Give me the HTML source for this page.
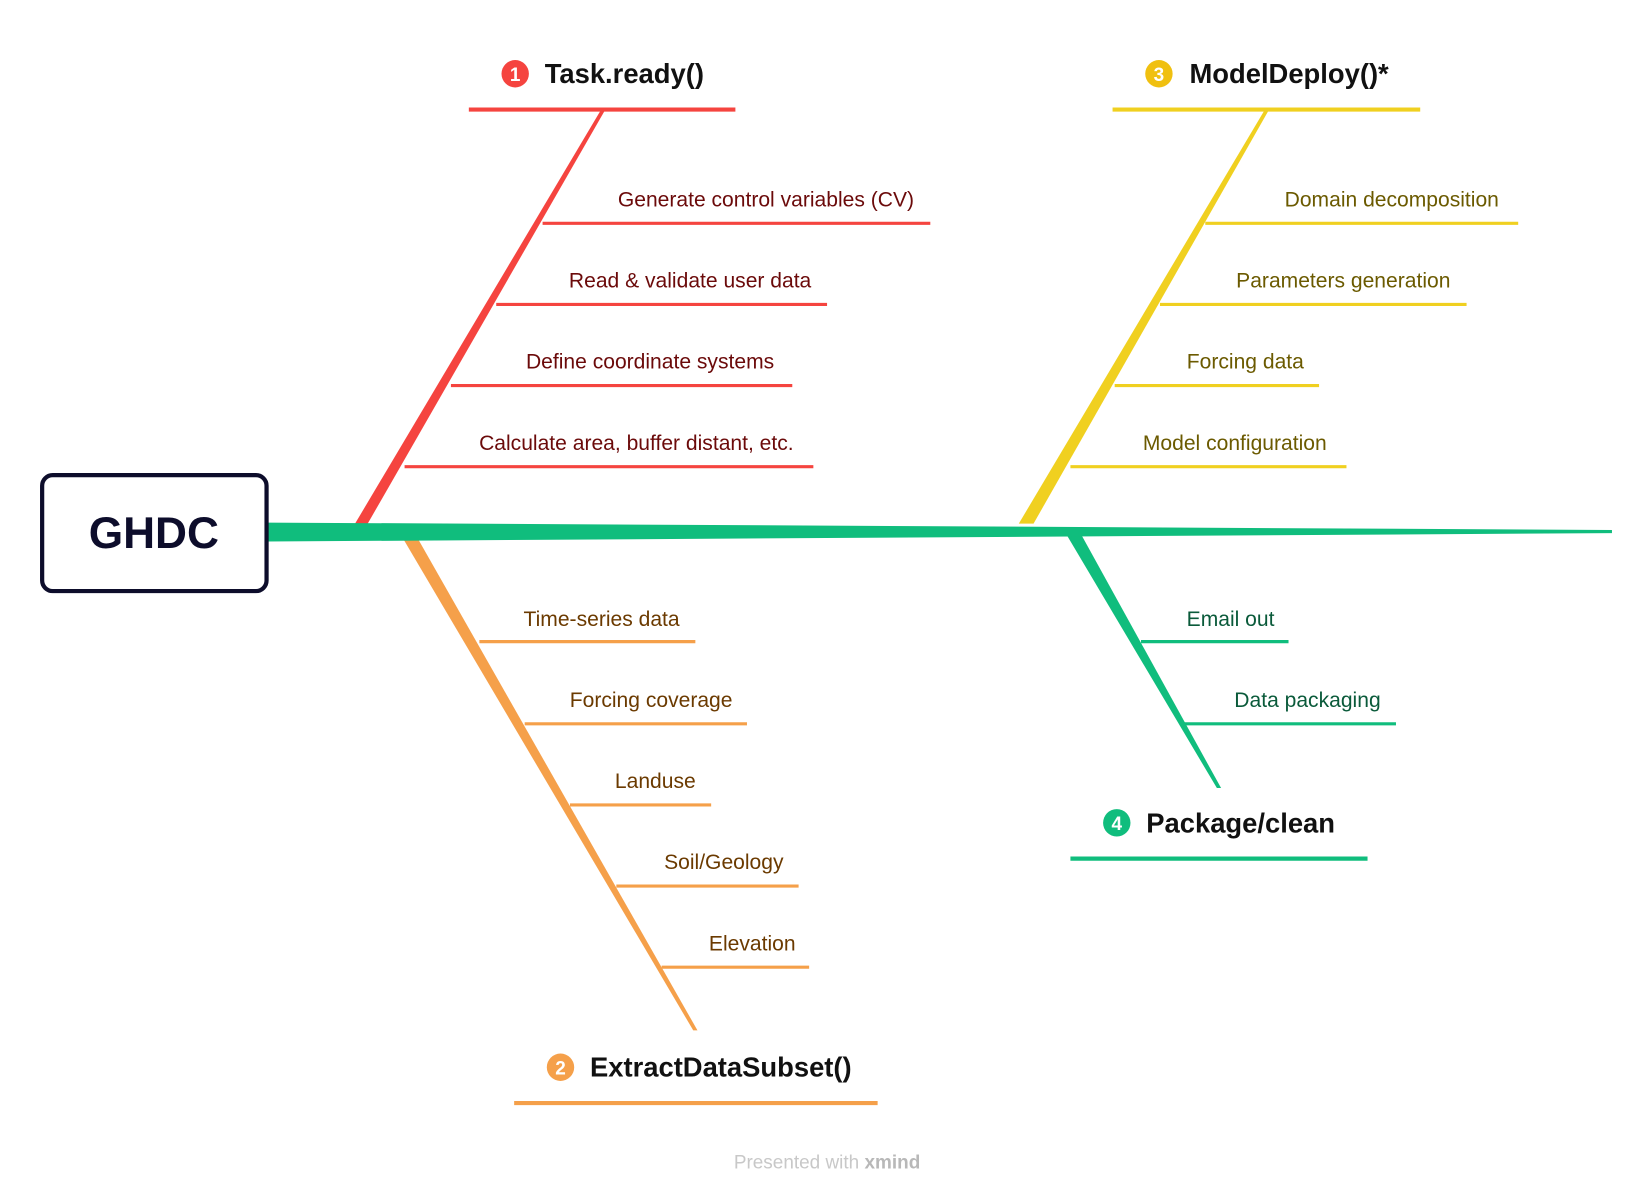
<!DOCTYPE html>
<html><head><meta charset="utf-8"><style>
html,body{margin:0;padding:0;background:#fff}
svg{display:block}
text{font-family:"Liberation Sans",sans-serif}
</style></head><body>
<svg width="1652" height="1200" viewBox="0 0 1568 1139" preserveAspectRatio="none" xmlns="http://www.w3.org/2000/svg">
<rect width="1568" height="1139" fill="#fff"/>
<!-- red branch -->
<polygon points="337,497 349,497 574,105 570,105" fill="#f5443f"/>
<line x1="445" y1="104" x2="698" y2="104" stroke="#f5443f" stroke-width="4"/>
<g stroke="#f5443f" stroke-width="3">
<line x1="515" y1="212" x2="883" y2="212"/><line x1="471" y1="289" x2="785" y2="289"/>
<line x1="428" y1="366" x2="752" y2="366"/><line x1="384" y1="443" x2="772" y2="443"/></g>
<g fill="#6b0a0a" font-size="20" text-anchor="middle">
<text x="727" y="196">Generate control variables (CV)</text><text x="655" y="273">Read &amp; validate user data</text>
<text x="617" y="350">Define coordinate systems</text><text x="604" y="427">Calculate area, buffer distant, etc.</text></g>
<circle cx="489" cy="70" r="13" fill="#f5443f"/><text x="489" y="77" font-size="18" font-weight="bold" fill="#fff" text-anchor="middle">1</text>
<text x="517" y="79" font-size="26" font-weight="bold" fill="#111">Task.ready()</text>
<!-- yellow -->
<polygon points="967,497 981,497 1204,105 1200,105" fill="#f0d020"/>
<line x1="1056" y1="104" x2="1348" y2="104" stroke="#f0d020" stroke-width="4"/>
<g stroke="#f0d020" stroke-width="3">
<line x1="1144" y1="212" x2="1441" y2="212"/><line x1="1101" y1="289" x2="1392" y2="289"/>
<line x1="1058" y1="366" x2="1252" y2="366"/><line x1="1016" y1="443" x2="1278" y2="443"/></g>
<g fill="#6b5a00" font-size="20" text-anchor="middle">
<text x="1321" y="196">Domain decomposition</text><text x="1275" y="273">Parameters generation</text>
<text x="1182" y="350">Forcing data</text><text x="1172" y="427">Model configuration</text></g>
<circle cx="1100" cy="70" r="13" fill="#f0c010"/><text x="1100" y="77" font-size="18" font-weight="bold" fill="#fff" text-anchor="middle">3</text>
<text x="1129" y="79" font-size="26" font-weight="bold" fill="#111">ModelDeploy()*</text>
<!-- orange -->
<polygon points="383,512 397,512 662,978 658,978" fill="#f5a04a"/>
<line x1="488" y1="1047" x2="833" y2="1047" stroke="#f5a04a" stroke-width="4"/>
<g stroke="#f5a04a" stroke-width="3">
<line x1="455" y1="609" x2="660" y2="609"/><line x1="498" y1="687" x2="709" y2="687"/>
<line x1="541" y1="764" x2="675" y2="764"/><line x1="585" y1="841" x2="758" y2="841"/>
<line x1="628" y1="918" x2="768" y2="918"/></g>
<g fill="#6b3a00" font-size="20" text-anchor="middle">
<text x="571" y="594">Time-series data</text><text x="618" y="671">Forcing coverage</text>
<text x="622" y="748">Landuse</text><text x="687" y="825">Soil/Geology</text><text x="714" y="902">Elevation</text></g>
<circle cx="532" cy="1013" r="13" fill="#f5a04a"/><text x="532" y="1020" font-size="18" font-weight="bold" fill="#fff" text-anchor="middle">2</text>
<text x="560" y="1022" font-size="26" font-weight="bold" fill="#111">ExtractDataSubset()</text>
<!-- green sub -->
<polygon points="1012,507 1026,507 1159,748 1155,748" fill="#10bd7d"/>
<line x1="1016" y1="815" x2="1298" y2="815" stroke="#10bd7d" stroke-width="4"/>
<g stroke="#10bd7d" stroke-width="3">
<line x1="1083" y1="609" x2="1223" y2="609"/><line x1="1124" y1="687" x2="1325" y2="687"/></g>
<g fill="#0a5a3a" font-size="20" text-anchor="middle">
<text x="1168" y="594">Email out</text><text x="1241" y="671">Data packaging</text></g>
<circle cx="1060" cy="781" r="13" fill="#10bd7d"/><text x="1060" y="788" font-size="18" font-weight="bold" fill="#fff" text-anchor="middle">4</text>
<text x="1088" y="790" font-size="26" font-weight="bold" fill="#111">Package/clean</text>
<!-- spine -->
<polygon points="254,496 1530,503 1530,506 254,514" fill="#10bd7d"/>
<!-- GHDC -->
<rect x="40" y="451" width="213" height="110" rx="10" fill="#fff" stroke="#0d0d2b" stroke-width="4"/>
<text x="146" y="520" font-size="42" font-weight="bold" fill="#0d0d2b" text-anchor="middle">GHDC</text>
<text x="785" y="1109" font-size="18" fill="#c8c8c8" text-anchor="middle">Presented with <tspan font-weight="bold" fill="#b8b8b8">xmind</tspan></text>
</svg>
</body></html>
